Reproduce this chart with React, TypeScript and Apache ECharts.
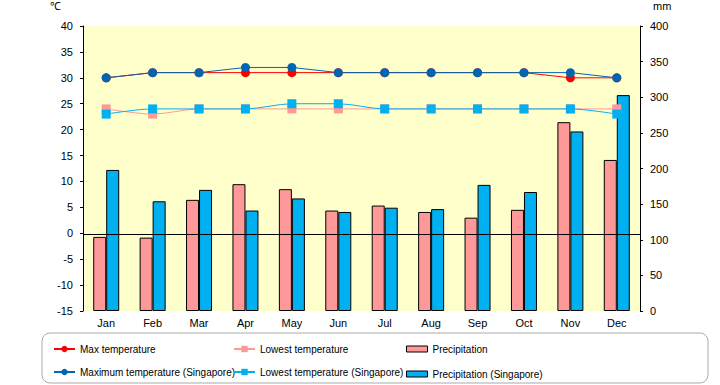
import React, { useEffect, useRef } from "react";
import * as echarts from "echarts";

const months = ["Jan", "Feb", "Mar", "Apr", "May", "Jun", "Jul", "Aug", "Sep", "Oct", "Nov", "Dec"];
const maxTemp = [30, 31, 31, 31, 31, 31, 31, 31, 31, 31, 30, 30];
const lowTemp = [24, 23, 24, 24, 24, 24, 24, 24, 24, 24, 24, 24];
const precip = [104, 103, 156, 178, 171, 141, 148, 139, 131, 142, 265, 212];
const maxTempSg = [30, 31, 31, 32, 32, 31, 31, 31, 31, 31, 31, 30];
const lowTempSg = [23, 24, 24, 24, 25, 25, 24, 24, 24, 24, 24, 23];
const precipSg = [198, 154, 170, 141, 158, 139, 145, 143, 177, 167, 252, 303];

const FONT = "'Liberation Sans', Arial, sans-serif";

export default function App() {
  const ref = useRef<HTMLDivElement>(null);
  useEffect(() => {
    const chart = echarts.init(ref.current!, null, { renderer: "svg" });
    const txt = { fontFamily: FONT, fontSize: 11, color: "#000" };
    const legendBase = {
      orient: "vertical" as const,
      top: 339,
      itemWidth: 21,
      itemHeight: 8,
      itemGap: 13,
      textStyle: { fontFamily: FONT, fontSize: 10, color: "#000" },
      selectedMode: false,
    };
    chart.setOption({
      animation: false,
      textStyle: { fontFamily: FONT },
      grid: { left: 83, right: 80, top: 26, bottom: 74, show: true, backgroundColor: "#FFFFCC", borderWidth: 0 },
      xAxis: {
        type: "category",
        data: months,
        axisLine: { show: false },
        axisTick: { show: false },
        axisLabel: { ...txt, margin: 6 },
      },
      yAxis: [
        {
          type: "value",
          min: -15,
          max: 40,
          interval: 5,
          splitLine: { show: false },
          axisLine: { show: true, lineStyle: { color: "#000" } },
          axisTick: { show: true, length: 3, lineStyle: { color: "#000" } },
          axisLabel: { ...txt, margin: 10 },
        },
        {
          type: "value",
          min: 0,
          max: 400,
          interval: 50,
          position: "right",
          splitLine: { show: false },
          axisLine: { show: true, lineStyle: { color: "#000" } },
          axisTick: { show: true, length: 3, lineStyle: { color: "#000" } },
          axisLabel: { ...txt, margin: 10 },
        },
      ],
      legend: [
        { ...legendBase, left: 48, data: ["Max temperature", "Maximum temperature (Singapore)"] },
        { ...legendBase, left: 228, data: ["Lowest temperature", "Lowest temperature (Singapore)"] },
        {
          ...legendBase,
          left: 401,
          itemHeight: 6,
          itemGap: 15,
          icon: "rect",
          itemStyle: { borderWidth: 1, borderColor: "#000" },
          data: ["Precipitation", "Precipitation (Singapore)"],
        },
      ],
      graphic: [
        { type: "text", left: 50, top: 0, style: { text: "℃", fontFamily: FONT, fontSize: 11, fill: "#000" } },
        { type: "text", left: 653, top: 0, style: { text: "mm", fontFamily: FONT, fontSize: 11, fill: "#000" } },
        {
          type: "rect",
          shape: { x: 42, y: 333, width: 666, height: 50, r: 8 },
          style: { fill: "none", stroke: "#AAAAAA", lineWidth: 1 },
          z: -1,
        },
      ],
      series: [
        {
          name: "Precipitation",
          type: "bar",
          yAxisIndex: 1,
          data: precip,
          barWidth: 13,
          barGap: "0%",
          itemStyle: { color: "#FF9999", borderColor: "#000", borderWidth: 1 },
        },
        {
          name: "Precipitation (Singapore)",
          type: "bar",
          yAxisIndex: 1,
          data: precipSg,
          barWidth: 13,
          barGap: "0%",
          itemStyle: { color: "#00B0F0", borderColor: "#000", borderWidth: 1 },
          markLine: {
            silent: true,
            symbol: "none",
            label: { show: false },
            lineStyle: { color: "#000", type: "solid", width: 1 },
            data: [{ yAxis: 108 }],
          },
        },
        {
          name: "Lowest temperature",
          type: "line",
          data: lowTemp,
          symbol: "rect",
          symbolSize: 9,
          smooth: 0.3,
          color: "#FF9999",
          lineStyle: { color: "#FF9999", width: 1 },
          itemStyle: { color: "#FF9999" },
        },
        {
          name: "Lowest temperature (Singapore)",
          type: "line",
          data: lowTempSg,
          symbol: "rect",
          symbolSize: 9,
          smooth: 0.3,
          color: "#00B0F0",
          lineStyle: { color: "#00B0F0", width: 1 },
          itemStyle: { color: "#00B0F0" },
        },
        {
          name: "Max temperature",
          type: "line",
          data: maxTemp,
          symbol: "circle",
          symbolSize: 9,
          color: "#FF0000",
          lineStyle: { color: "#FF0000", width: 1 },
          itemStyle: { color: "#FF0000" },
        },
        {
          name: "Maximum temperature (Singapore)",
          type: "line",
          data: maxTempSg,
          symbol: "circle",
          symbolSize: 9,
          color: "#0066B3",
          lineStyle: { color: "#0066B3", width: 1 },
          itemStyle: { color: "#0066B3" },
        },
      ],
    });
    return () => chart.dispose();
  }, []);
  return <div ref={ref} style={{ width: 720, height: 385, position: "absolute", left: 0, top: 0 }} />;
}
